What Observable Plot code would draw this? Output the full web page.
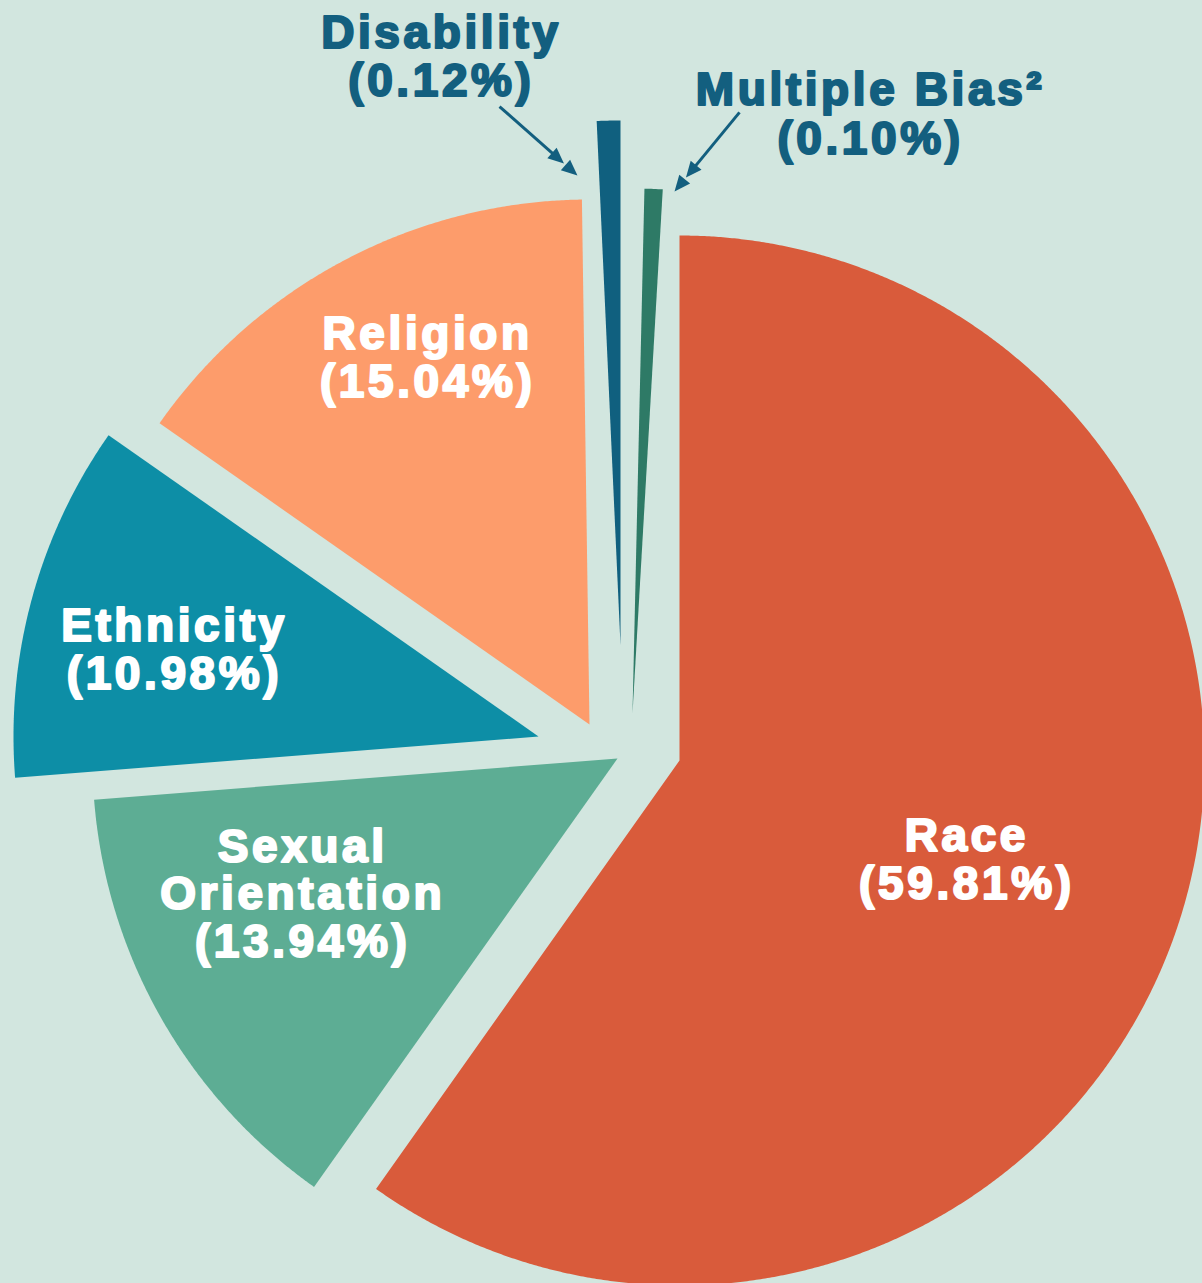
<!DOCTYPE html>
<html><head><meta charset="utf-8">
<script src="https://cdn.jsdelivr.net/npm/d3@7"></script>
<script src="https://cdn.jsdelivr.net/npm/@observablehq/plot@0.6"></script>
<style>
html,body{margin:0;padding:0;background:#d2e6df;overflow:hidden;}
#chart svg text{letter-spacing:3.6px;}
</style></head><body><div id="chart"></div>
<script>
// ---- data ----
const categories = ["Race", "Sexual Orientation", "Ethnicity", "Religion", "Disability", "Multiple Bias"];
const percents = [59.81, 13.94, 10.98, 15.04, 0.12, 0.10];
const labelNames = ["Race", "Sexual\nOrientation", "Ethnicity", "Religion", "Disability", "Multiple Bias²"];
const colors = ["#d95b3b", "#5dad94", "#0d8ea6", "#fd9c6b", "#10607f", "#2e7a66"];

// ---- layout / style (exploded pie, hand-tuned like the original) ----
const W = 1202, H = 1283, R = 525, CX = 625, CY = 740;
const layout = {
  "Race":               {dx: 54,  dy: 20,  label: {da: 1.4,  t: 0.579}},
  "Sexual Orientation": {dx: -8,  dy: 18,  label: {da: 6.3,  t: 0.653}},
  "Ethnicity":          {dx: -87, dy: -4,  label: {da: -1.8, t: 0.713}},
  "Religion":           {dx: -36, dy: -16, label: {da: 4.1,  t: 0.764}},
  "Disability":         {dx: -5,  dy: -95, minSweep: 2.6, shift: -0.69, outside: true,
                         label: {da: -16.31, t: 1.172}, arrow: {from: {da: -12.04, t: 1.052}, to: {da: -4.62, t: 0.899}}},
  "Multiple Bias":      {dx: 7,   dy: -27, minSweep: 2.0, shift: 2.52, outside: true,
                         label: {da: 21.87, t: 1.2287}, arrow: {from: {da: 10.31, t: 1.163}, to: {da: 4.82, t: 0.9975}}}
};

const rad = d => d * Math.PI / 180;
const polar = (apex, deg, t) => [apex[0] + t * Math.sin(rad(deg)), apex[1] + t * Math.cos(rad(deg))];

const slicePts = [], inside = [], outside = [], arrows = [], heads = [];
let cum = 0;
categories.forEach((cat, i) => {
  const L = layout[cat];
  const sweep = percents[i] * 3.6;
  const midData = cum + sweep / 2;
  cum += sweep;
  const dispSweep = Math.max(sweep, L.minSweep || 0);
  const mid = midData + (L.shift || 0);
  const a0 = mid - dispSweep / 2, a1 = mid + dispSweep / 2;
  const apex = [L.dx / R, -L.dy / R];
  slicePts.push({cat, x: apex[0], y: apex[1]});
  const n = Math.max(2, Math.ceil((a1 - a0) / 0.25));
  for (let k = 0; k <= n; k++) {
    const [x, y] = polar(apex, a0 + (a1 - a0) * k / n, 1);
    slicePts.push({cat, x, y});
  }
  slicePts.push({cat, x: apex[0], y: apex[1]});
  const [lx, ly] = polar(apex, midData + L.label.da, L.label.t);
  const text = `${labelNames[i]}\n(${percents[i].toFixed(2)}%)`;
  (L.outside ? outside : inside).push({x: lx, y: ly, text});
  if (L.arrow) {
    const [x1, y1] = polar(apex, midData + L.arrow.from.da, L.arrow.from.t);
    const [x2, y2] = polar(apex, midData + L.arrow.to.da, L.arrow.to.t);
    const len = Math.hypot(x2 - x1, y2 - y1), ux = (x2 - x1) / len, uy = (y2 - y1) / len;
    const hl = 16 / R, hw = 7 / R, gap = 18 / R;
    arrows.push({x1, y1, x2: x2 - ux * (gap + hl * 0.6), y2: y2 - uy * (gap + hl * 0.6)});
    [0, gap].forEach((g, j) => {
      const tx = x2 - ux * g, ty = y2 - uy * g;
      const bx = tx - ux * hl, by = ty - uy * hl;
      const id = cat + j;
      heads.push({id, x: tx, y: ty}, {id, x: bx - uy * hw, y: by + ux * hw}, {id, x: bx + uy * hw, y: by - ux * hw});
    });
  }
});

const font = "'Liberation Sans', Arial, Helvetica, sans-serif";
const chart = Plot.plot({
  width: W, height: H, margin: 0,
  x: {domain: [-CX / R, (W - CX) / R], axis: null},
  y: {domain: [-(H - CY) / R, CY / R], axis: null},
  color: {domain: categories, range: colors},
  style: {background: "#d2e6df", fontFamily: font},
  marks: [
    Plot.line(slicePts, {x: "x", y: "y", z: "cat", fill: "cat", stroke: "none", curve: "linear"}),
    Plot.link(arrows, {x1: "x1", y1: "y1", x2: "x2", y2: "y2", stroke: "#135f7f", strokeWidth: 3}),
    Plot.line(heads, {x: "x", y: "y", z: "id", fill: "#135f7f", stroke: "none"}),
    Plot.text(inside, {x: "x", y: "y", text: "text", fill: "white", stroke: "white", strokeWidth: 2.2,
      fontSize: 46, fontWeight: "bold", lineHeight: 1.04, lineAnchor: "middle", fontFamily: font}),
    Plot.text(outside, {x: "x", y: "y", text: "text", fill: "#135f7f", stroke: "#135f7f", strokeWidth: 2.2,
      fontSize: 46, fontWeight: "bold", lineHeight: 1.05, lineAnchor: "middle", fontFamily: font})
  ]
});
document.getElementById("chart").appendChild(chart);
</script>
</body></html>
